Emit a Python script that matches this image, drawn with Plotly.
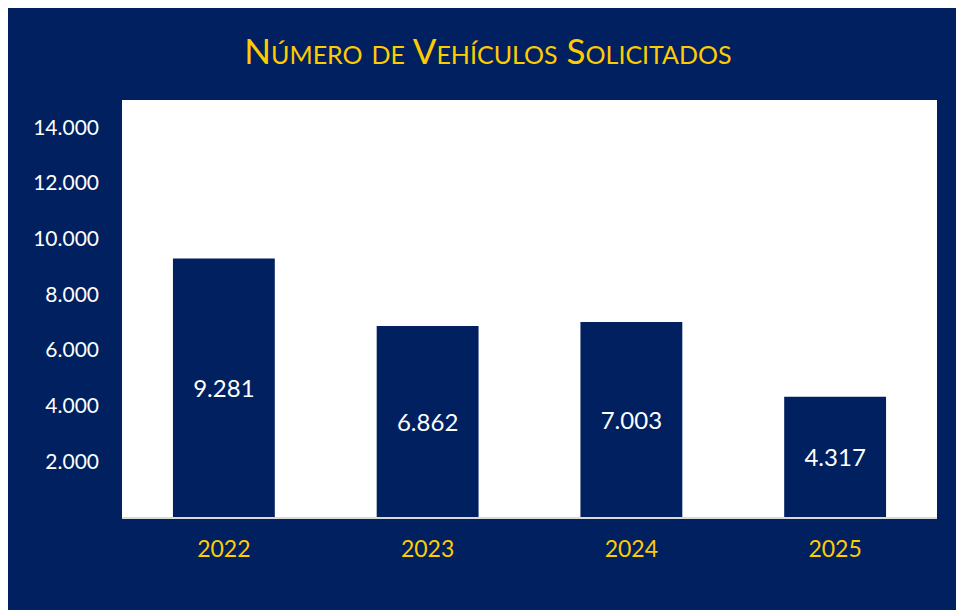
import plotly.graph_objects as go

years = ["2022", "2023", "2024", "2025"]
vehicles = [9281, 6862, 7003, 4317]
y_ticks = [2000, 4000, 6000, 8000, 10000, 12000, 14000]
title_text = "Número de Vehículos Solicitados"

NAVY = "#002060"
GOLD = "#FFCC00"
FONT = "Lato"

W, H = 948, 602
ML, MR, MT, MB = 114, 19, 92, 93

fig = go.Figure(
    go.Bar(
        x=years,
        y=vehicles,
        width=0.5,
        marker=dict(color=NAVY, line=dict(width=0)),
        texttemplate="%{y:,d}",
        textposition="inside",
        insidetextanchor="middle",
        textfont=dict(color="white", size=24, family=FONT),
        hoverinfo="skip",
    )
)

fig.update_layout(
    width=W, height=H,
    margin=dict(l=ML, r=MR, t=MT, b=MB, pad=0),
    paper_bgcolor=NAVY,
    plot_bgcolor="white",
    separators=",.",
    showlegend=False,
    title=dict(
        text=title_text,
        x=480 / W, xanchor="center", xref="container",
        y=1 - 44 / H, yanchor="middle", yref="container",
        font=dict(family=FONT, size=35, color=GOLD, variant="small-caps"),
    ),
    xaxis=dict(
        showgrid=False,
        showline=True, linecolor="#D9D9D9", linewidth=2,
        ticks="", ticklabelstandoff=10,
        tickfont=dict(family=FONT, size=23, color=GOLD),
        fixedrange=True,
    ),
    yaxis=dict(
        range=[0, 14975],
        showgrid=False, zeroline=False, showline=False,
        tickvals=y_ticks, tickformat=",d",
        ticks="", ticklabelstandoff=22,
        tickfont=dict(family=FONT, size=21, color="white"),
        fixedrange=True,
    ),
)

page_js = (
    "var h=document.documentElement, b=document.body;"
    "h.style.overflow='hidden'; h.style.background='white';"
    "b.style.overflow='hidden'; b.style.margin='8px 0 0 8px';"
    "b.style.background='" + NAVY + "'; b.style.minHeight='" + str(H) + "px';"
)

fig.write_html(
    "out.html",
    config={"displayModeBar": False},
    post_script=page_js,
)
